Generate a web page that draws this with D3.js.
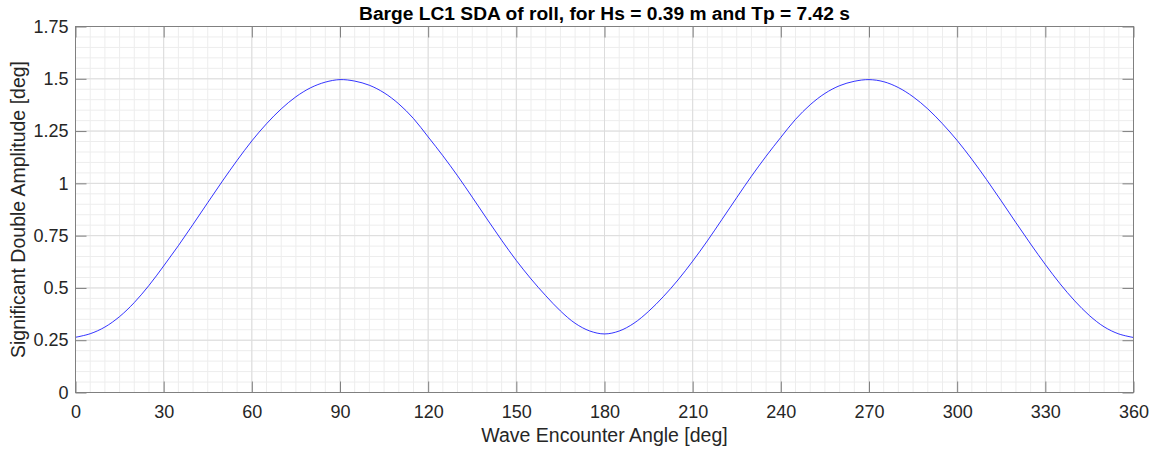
<!DOCTYPE html>
<html lang="en">
<head>
<meta charset="UTF-8">
<script src="https://d3js.org/d3.v7.min.js"></script>
<style>
  body { margin: 0; background: #fff; }
  text { font-family: "Liberation Sans", Arial, sans-serif; }
</style>
</head>
<body>
<div id="chart"></div>
<script>
  var angles = [0, 5, 10, 15, 20, 25, 30, 35, 40, 45, 50, 55, 60, 65, 70, 75, 80, 85, 90,
    95, 100, 105, 110, 115, 120, 125, 130, 135, 140, 145, 150, 155, 160, 165, 170, 175, 180,
    185, 190, 195, 200, 205, 210, 215, 220, 225, 230, 235, 240, 245, 250, 255, 260, 265, 270,
    275, 280, 285, 290, 295, 300, 305, 310, 315, 320, 325, 330, 335, 340, 345, 350, 355, 360];
  var sda = [0.264, 0.281, 0.313, 0.363, 0.430, 0.512, 0.605, 0.702, 0.804, 0.908, 1.011, 1.110, 1.203,
    1.285, 1.356, 1.414, 1.457, 1.484, 1.496,
    1.489, 1.469, 1.433, 1.380, 1.310, 1.222, 1.132, 1.036, 0.934, 0.830, 0.728, 0.631,
    0.543, 0.463, 0.390, 0.331, 0.294, 0.280,
    0.294, 0.331, 0.388, 0.458, 0.538, 0.628, 0.725, 0.828, 0.932, 1.034, 1.130, 1.220,
    1.306, 1.376, 1.430, 1.467, 1.488, 1.496,
    1.486, 1.458, 1.414, 1.356, 1.285, 1.205, 1.115, 1.018, 0.916, 0.812, 0.710, 0.612,
    0.520, 0.438, 0.368, 0.314, 0.280, 0.263];
  var xTicks = [0, 30, 60, 90, 120, 150, 180, 210, 240, 270, 300, 330, 360];
  var yTicks = [0, 0.25, 0.5, 0.75, 1, 1.25, 1.5, 1.75];
  var xMinor = d3.range(0, 361, 5);
  var yMinor = d3.range(0, 1.7501, 0.05);

  var title = "Barge LC1 SDA of roll, for Hs = 0.39 m and Tp = 7.42 s";
  var xLabel = "Wave Encounter Angle [deg]";
  var yLabel = "Significant Double Amplitude [deg]";

  var W = 1154, H = 450;
  var margin = {top: 26.5, right: 20.5, bottom: 57.5, left: 75.5};

  var svg = d3.select("#chart").append("svg")
    .attr("width", W).attr("height", H);

  var x = d3.scaleLinear().domain([0, 360]).range([margin.left, W - margin.right]);
  var y = d3.scaleLinear().domain([0, 1.75]).range([H - margin.bottom, margin.top]);

  // minor grid
  var grid = svg.append("g");
  grid.selectAll(".mx").data(xMinor).join("line")
    .attr("x1", d => x(d)).attr("x2", d => x(d))
    .attr("y1", y(0)).attr("y2", y(1.75))
    .attr("stroke", "#ededed").attr("stroke-width", 1);
  grid.selectAll(".my").data(yMinor).join("line")
    .attr("y1", d => y(d)).attr("y2", d => y(d))
    .attr("x1", x(0)).attr("x2", x(360))
    .attr("stroke", "#ededed").attr("stroke-width", 1);
  // major grid
  grid.selectAll(".gx").data(xTicks).join("line")
    .attr("x1", d => x(d)).attr("x2", d => x(d))
    .attr("y1", y(0)).attr("y2", y(1.75))
    .attr("stroke", "#dcdcdc").attr("stroke-width", 1);
  grid.selectAll(".gy").data(yTicks).join("line")
    .attr("y1", d => y(d)).attr("y2", d => y(d))
    .attr("x1", x(0)).attr("x2", x(360))
    .attr("stroke", "#dcdcdc").attr("stroke-width", 1);

  // line
  var line = d3.line()
    .x((d, i) => x(angles[i]))
    .y(d => y(d))
    .curve(d3.curveCatmullRom.alpha(0.5));
  svg.append("path")
    .datum(sda)
    .attr("fill", "none")
    .attr("stroke", "#0000ff")
    .attr("stroke-width", 0.8)
    .attr("d", line);

  // axes
  function styleAxis(g) {
    g.selectAll(".domain").remove();
    g.selectAll(".tick line").attr("stroke", "#808080");
    g.selectAll(".tick text").attr("fill", "#262626").attr("font-size", "18px");
  }
  svg.append("g")
    .attr("transform", `translate(0,${y(0)})`)
    .call(d3.axisBottom(x).tickValues(xTicks).tickSize(-11).tickPadding(13).tickFormat(d3.format("d")))
    .call(styleAxis);
  svg.append("g")
    .attr("transform", `translate(0,${y(1.75)})`)
    .call(d3.axisTop(x).tickValues(xTicks).tickSize(-11).tickFormat(""))
    .call(styleAxis);
  svg.append("g")
    .attr("transform", `translate(${x(0)},0)`)
    .call(d3.axisLeft(y).tickValues(yTicks).tickSize(-11).tickPadding(7).tickFormat(d => String(d)))
    .call(styleAxis);
  svg.append("g")
    .attr("transform", `translate(${x(360)},0)`)
    .call(d3.axisRight(y).tickValues(yTicks).tickSize(-11).tickFormat(""))
    .call(styleAxis);

  // box
  svg.append("rect")
    .attr("x", x(0)).attr("y", y(1.75))
    .attr("width", x(360) - x(0)).attr("height", y(0) - y(1.75))
    .attr("fill", "none").attr("stroke", "#808080").attr("stroke-width", 1);

  // labels
  svg.append("text")
    .attr("x", (x(0) + x(360)) / 2).attr("y", 20)
    .attr("text-anchor", "middle").attr("font-weight", "bold").attr("font-size", "19.2px")
    .attr("fill", "#000").text(title);
  svg.append("text")
    .attr("x", (x(0) + x(360)) / 2).attr("y", 442)
    .attr("text-anchor", "middle").attr("font-size", "19.5px")
    .attr("fill", "#262626").text(xLabel);
  svg.append("text")
    .attr("transform", `translate(25,${(y(0) + y(1.75)) / 2}) rotate(-90)`)
    .attr("text-anchor", "middle").attr("font-size", "19.5px")
    .attr("fill", "#262626").text(yLabel);
</script>
</body>
</html>
